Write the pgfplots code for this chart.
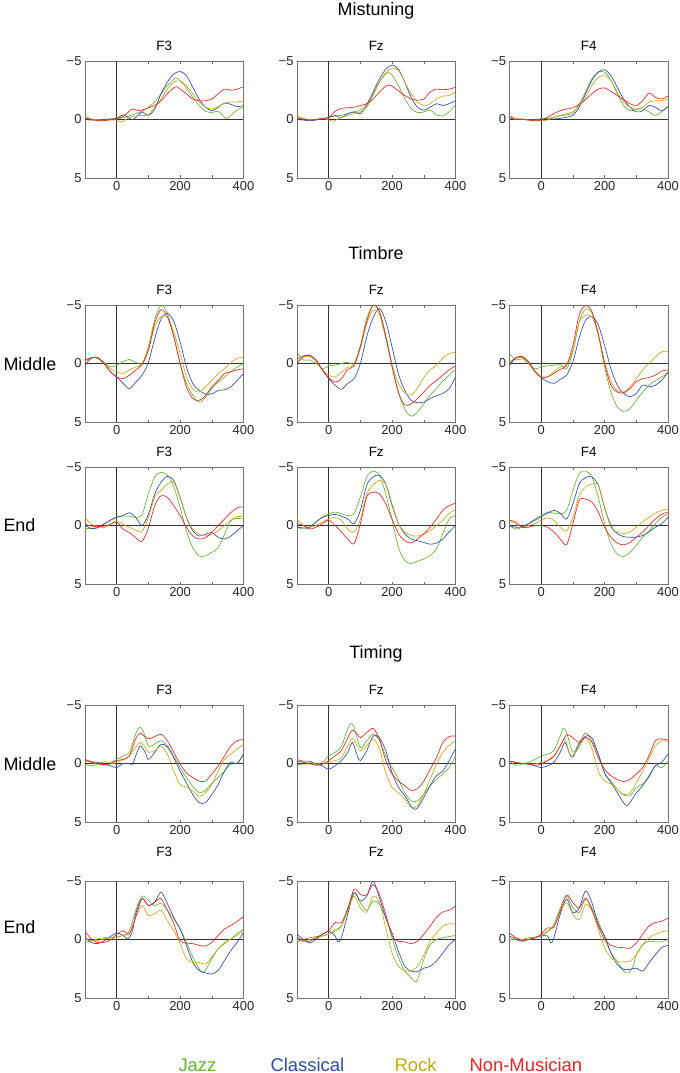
\documentclass[border=0pt]{standalone}
\usepackage{fontspec}
\setmainfont{Liberation Sans}
\usepackage{pgfplots}
\pgfplotsset{compat=1.18}
\definecolor{jazz}{RGB}{100,180,50}
\definecolor{classical}{RGB}{45,75,170}
\definecolor{rock}{RGB}{195,170,20}
\definecolor{nonmus}{RGB}{235,35,35}
\pgfplotsset{erp/.style={
  scale only axis, width=158.5bp, height=117bp, anchor=north west,
  xmin=-100, xmax=400, ymin=-5, ymax=5, y dir=reverse,
  xtick={0,100,200,300,400}, xticklabels={0,,200,,400},
  ytick={-5,0,5}, yticklabels={−5,0,5},
  tick align=inside, major tick length=2.5bp,
  tick style={black!60, line width=0.5pt},
  axis line style={black!55, line width=0.9pt},
  tick label style={font=\fontsize{13}{14}\selectfont, text=black!85},
  title style={at={(0.5,1)}, anchor=base, yshift=4.5bp, font=\fontsize{13.5}{14}\selectfont},
  extra x ticks={0}, extra x tick labels={}, extra y ticks={0}, extra y tick labels={},
  extra tick style={grid=major, major grid style={black!80, line width=0.6pt}, major tick length=0pt},
  every axis plot/.append style={line width=0.65pt, smooth, mark=none},
}}
\begin{document}
\begin{tikzpicture}
\path[use as bounding box] (0,0) rectangle (680bp,-1073bp);
\tikzset{lab/.style={anchor=base west, font=\fontsize{18}{19}\selectfont}, sec/.style={anchor=base, font=\fontsize{18}{19}\selectfont}}
\node[sec] at (376bp,-15.5bp) {Mistuning};
\node[sec] at (376bp,-259bp) {Timbre};
\node[sec] at (376bp,-658.5bp) {Timing};
\node[lab] at (0bp,-370bp) {Middle};
\node[lab] at (0bp,-531.5bp) {End};
\node[lab] at (0bp,-770bp) {Middle};
\node[lab] at (0bp,-933bp) {End};
\node[anchor=base west, font=\fontsize{18.5}{19}\selectfont, text=jazz] at (175bp,-1071bp) {Jazz};
\node[anchor=base west, font=\fontsize{18.5}{19}\selectfont, text=classical] at (267bp,-1071bp) {Classical};
\node[anchor=base west, font=\fontsize{18.5}{19}\selectfont, text=rock] at (391bp,-1071bp) {Rock};
\node[anchor=base west, font=\fontsize{18.5}{19}\selectfont, text=nonmus] at (466bp,-1071bp) {Non-Musician};

% ===== Row 1: Mistuning =====
\begin{axis}[erp, at={(85bp,-61bp)}, title={F3}]
\addplot[jazz] coordinates {(-100,-0.15)(-80,0)(-60,0)(-40,0)(-20,0)(0,-0.05)(20,-0.15)(40,-0.3)(60,-0.5)(80,-0.7)(100,-1.05)(120,-1.5)(140,-2.2)(160,-2.9)(180,-3.45)(190,-3.55)(200,-3.3)(220,-2.7)(240,-1.9)(260,-1.2)(280,-0.7)(300,-0.6)(320,-0.7)(340,-0.2)(350,-0.1)(360,-0.35)(380,-0.8)(400,-1.1)};
\addplot[classical] coordinates {(-100,0)(-80,0.05)(-60,0.05)(-40,0)(-20,-0.05)(0,-0.1)(20,-0.4)(35,-0.2)(50,0)(65,-0.3)(80,-0.65)(100,-0.35)(120,-0.9)(140,-2.2)(160,-3.2)(180,-3.9)(200,-4.1)(220,-3.75)(240,-2.75)(260,-1.75)(280,-1.05)(300,-0.75)(320,-1.05)(340,-1.4)(360,-1.3)(380,-1.1)(400,-1.2)};
\addplot[rock] coordinates {(-100,-0.3)(-80,-0.05)(-60,0.05)(-40,0.1)(-20,0.05)(0,0.05)(10,0.2)(20,0.15)(40,-0.2)(60,-0.3)(80,-0.35)(100,-0.4)(120,-1.05)(140,-1.75)(160,-2.6)(180,-3.2)(200,-3.3)(220,-2.9)(240,-2.2)(260,-1.5)(280,-1.05)(300,-0.9)(320,-1.1)(340,-1.4)(360,-1.5)(380,-1.5)(400,-1.6)};
\addplot[nonmus] coordinates {(-100,-0.15)(-80,0)(-60,0.1)(-40,0.1)(-20,0)(0,-0.1)(20,-0.25)(35,-0.6)(50,-0.9)(70,-0.75)(90,-0.9)(100,-1.0)(120,-1.2)(140,-1.6)(160,-2.2)(180,-2.7)(190,-2.8)(200,-2.6)(220,-2.2)(240,-1.75)(260,-1.6)(280,-1.6)(300,-1.75)(320,-2.2)(340,-2.6)(360,-2.5)(380,-2.6)(400,-2.8)};
\end{axis}
\begin{axis}[erp, at={(297bp,-61bp)}, title={Fz}]
\addplot[jazz] coordinates {(-100,-0.2)(-80,-0.05)(-60,0)(-40,0)(-20,-0.05)(0,-0.2)(20,-0.3)(40,-0.35)(60,-0.5)(80,-0.65)(100,-0.8)(120,-1.35)(140,-2.2)(160,-3.2)(180,-3.9)(190,-4.0)(200,-3.8)(220,-2.9)(240,-1.8)(260,-0.95)(280,-0.6)(300,-0.65)(320,-0.8)(340,-0.4)(360,-0.3)(380,-0.65)(400,-1.25)};
\addplot[classical] coordinates {(-100,0)(-80,0.05)(-60,0.1)(-40,0.05)(-20,-0.05)(0,-0.15)(20,-0.35)(40,-0.15)(60,-0.5)(80,-0.65)(100,-0.5)(120,-1.2)(140,-2.35)(160,-3.45)(180,-4.3)(200,-4.65)(220,-4.3)(240,-3.2)(260,-1.9)(280,-1.05)(300,-0.8)(320,-1.05)(340,-1.35)(360,-1.2)(380,-1.35)(400,-1.6)};
\addplot[rock] coordinates {(-100,-0.35)(-80,-0.1)(-60,0)(-40,0)(-20,-0.1)(0,0.05)(10,0.15)(20,0.1)(40,-0.2)(60,-0.35)(80,-0.5)(100,-0.65)(120,-1.05)(140,-2.05)(160,-3.2)(180,-4.0)(200,-4.4)(220,-4.2)(240,-3.2)(260,-2.2)(280,-1.5)(300,-1.2)(320,-1.35)(340,-1.75)(360,-2.0)(380,-2.05)(400,-2.35)};
\addplot[nonmus] coordinates {(-100,-0.15)(-80,0)(-60,0.05)(-40,0)(-20,-0.1)(0,-0.15)(20,-0.7)(40,-0.95)(60,-1.0)(80,-1.05)(100,-1.2)(120,-1.35)(140,-1.75)(160,-2.35)(180,-2.85)(190,-2.95)(200,-2.85)(220,-2.45)(240,-2.05)(260,-1.75)(280,-1.65)(300,-1.75)(320,-2.35)(340,-2.6)(360,-2.55)(380,-2.6)(400,-2.75)};
\end{axis}
\begin{axis}[erp, at={(509.5bp,-61bp)}, title={F4}]
\addplot[jazz] coordinates {(-100,-0.15)(-80,0)(-60,-0.05)(-40,0)(-20,0.05)(0,-0.05)(20,-0.1)(40,-0.2)(60,-0.3)(80,-0.4)(100,-0.55)(120,-1.35)(140,-2.35)(160,-3.5)(180,-4.05)(200,-4.05)(220,-3.35)(240,-2.2)(260,-1.2)(280,-0.75)(300,-0.85)(320,-0.9)(340,-0.65)(360,-0.35)(380,-0.65)(400,-1.1)};
\addplot[classical] coordinates {(-100,-0.2)(-80,0)(-60,0)(-40,0)(-20,0)(0,-0.05)(20,-0.05)(40,-0.05)(60,-0.1)(80,-0.2)(100,-0.35)(120,-1.05)(140,-2.2)(160,-3.35)(180,-4.05)(200,-4.25)(220,-3.75)(240,-2.75)(260,-1.75)(280,-1.05)(300,-0.65)(320,-0.75)(340,-1.2)(360,-1.05)(380,-0.75)(400,-1.1)};
\addplot[rock] coordinates {(-100,-0.35)(-80,-0.1)(-60,-0.05)(-40,0.05)(-20,0.1)(0,0.1)(20,0.05)(40,-0.2)(60,-0.35)(80,-0.5)(100,-0.65)(120,-1.2)(140,-1.9)(160,-2.9)(180,-3.6)(200,-3.75)(220,-3.35)(240,-2.35)(260,-1.5)(280,-1.05)(300,-0.9)(320,-1.05)(340,-1.5)(360,-1.6)(380,-1.6)(400,-1.75)};
\addplot[nonmus] coordinates {(-100,-0.2)(-80,0)(-60,0)(-40,0.05)(-20,0.1)(0,0.05)(20,-0.2)(40,-0.5)(60,-0.75)(80,-0.9)(100,-1.0)(120,-1.3)(140,-1.7)(160,-2.2)(180,-2.6)(200,-2.7)(220,-2.4)(240,-2.05)(260,-1.7)(280,-1.35)(300,-1.2)(320,-1.6)(340,-2.25)(360,-1.9)(380,-1.75)(400,-2.0)};
\end{axis}

% ===== Row 2: Timbre Middle =====
\begin{axis}[erp, at={(85bp,-305bp)}, title={F3}]
\addplot[jazz] coordinates {(-100,-0.15)(-80,-0.45)(-60,-0.5)(-40,-0.1)(-20,0.3)(0,0.15)(20,-0.15)(40,-0.35)(60,-0.1)(80,0)(100,-1.45)(120,-3.75)(140,-4.95)(160,-4.3)(180,-2.3)(200,0)(220,1.7)(240,2.7)(260,3.3)(280,2.9)(300,2.15)(320,1.6)(340,1.15)(360,0.7)(380,0.3)(400,0)};
\addplot[classical] coordinates {(-100,0.15)(-80,-0.45)(-60,-0.5)(-40,0)(-20,0.7)(0,1.15)(20,1.7)(40,2.15)(60,1.6)(80,1.0)(100,-0.1)(120,-2.15)(140,-3.8)(160,-4.3)(180,-3.6)(200,-1.85)(220,0.3)(240,1.7)(260,2.3)(280,2.6)(300,2.6)(320,2.3)(340,2.25)(360,2.0)(380,1.45)(400,0.85)};
\addplot[rock] coordinates {(-100,-0.25)(-80,-0.5)(-60,-0.45)(-40,0)(-20,0.45)(0,0.7)(20,0.85)(40,0.55)(60,0.3)(80,0.1)(100,-1.15)(120,-3.15)(140,-4.0)(160,-3.95)(180,-2.7)(200,-0.85)(220,1.15)(240,2.15)(260,2.45)(280,2.0)(300,1.45)(320,0.85)(340,0.45)(360,-0.05)(380,-0.45)(400,-0.5)};
\addplot[nonmus] coordinates {(-100,-0.3)(-80,-0.5)(-60,-0.45)(-40,0)(-20,0.7)(0,1.15)(20,1.3)(40,1.0)(60,0.55)(80,0.1)(100,-1.15)(120,-3.45)(140,-4.6)(160,-4.0)(180,-2.3)(200,0)(220,2.0)(240,3.0)(260,3.15)(280,2.75)(300,2.0)(320,1.45)(340,0.85)(360,0.7)(380,0.55)(400,0.45)};
\end{axis}
\begin{axis}[erp, at={(297bp,-305bp)}, title={Fz}]
\addplot[jazz] coordinates {(-100,-0.95)(-80,-0.3)(-60,-0.3)(-40,0)(-20,0.45)(0,0.2)(20,0.15)(40,0)(60,-0.1)(80,0)(100,-1.55)(120,-3.85)(140,-4.95)(160,-4.45)(180,-2.45)(200,0.2)(220,2.4)(240,3.9)(260,4.5)(280,4.15)(300,3.45)(320,2.7)(340,2.15)(360,1.5)(380,1.0)(400,0.5)};
\addplot[classical] coordinates {(-100,0)(-80,-0.55)(-60,-0.7)(-40,-0.3)(-20,0.55)(0,1.3)(20,1.85)(40,2.2)(60,1.7)(80,1.3)(100,0)(120,-2.3)(140,-3.9)(160,-4.7)(180,-3.6)(200,-1.4)(220,0.9)(240,2.3)(260,3.15)(280,3.35)(300,3.3)(320,3.0)(340,2.75)(360,2.55)(380,2.15)(400,1.15)};
\addplot[rock] coordinates {(-100,-0.15)(-80,-0.55)(-60,-0.6)(-40,-0.15)(-20,0.55)(0,1.0)(20,1.15)(40,0.75)(60,0.3)(80,0.15)(100,-1.3)(120,-3.4)(140,-4.55)(160,-4.15)(180,-2.15)(200,0.1)(220,1.7)(240,2.5)(260,2.7)(280,2.1)(300,1.2)(320,0.55)(340,0.15)(360,-0.45)(380,-0.85)(400,-0.95)};
\addplot[nonmus] coordinates {(-100,-0.35)(-80,-0.65)(-60,-0.7)(-40,-0.3)(-20,0.55)(0,1.2)(20,1.6)(40,1.3)(60,0.5)(80,0.2)(100,-1.45)(120,-3.6)(140,-5.0)(160,-4.45)(180,-2.3)(200,0.3)(220,2.5)(240,3.55)(260,3.45)(280,3.0)(300,2.45)(320,1.85)(340,1.45)(360,1.0)(380,0.55)(400,0.2)};
\end{axis}
\begin{axis}[erp, at={(509.5bp,-305bp)}, title={F4}]
\addplot[jazz] coordinates {(-100,-0.85)(-80,-0.3)(-60,-0.4)(-40,0)(-20,0.45)(0,0.3)(20,0.2)(40,0.15)(60,0.1)(80,0.45)(100,-1.0)(120,-3.55)(140,-4.65)(160,-4.3)(180,-2.45)(200,0.3)(220,2.45)(240,3.7)(260,4.1)(280,3.85)(300,3.15)(320,2.45)(340,1.85)(360,1.45)(380,1.15)(400,0.85)};
\addplot[classical] coordinates {(-100,0.15)(-80,-0.45)(-60,-0.55)(-40,-0.15)(-20,0.7)(0,1.2)(20,1.55)(40,1.7)(60,1.35)(80,1.0)(100,-0.15)(120,-2.2)(140,-3.7)(160,-4.0)(180,-3.3)(200,-1.55)(220,0.45)(240,1.85)(260,2.55)(280,2.85)(300,2.55)(320,1.85)(340,2.0)(360,1.85)(380,1.45)(400,0.7)};
\addplot[rock] coordinates {(-100,-0.15)(-80,-0.45)(-60,-0.5)(-40,0)(-20,0.7)(0,1.15)(20,1.15)(40,0.7)(60,0.3)(80,0.15)(100,-1.15)(120,-3.55)(140,-4.1)(160,-4.0)(180,-2.45)(200,-0.15)(220,1.55)(240,2.3)(260,2.45)(280,2.0)(300,1.3)(320,0.55)(340,0)(360,-0.55)(380,-1.0)(400,-1.05)};
\addplot[nonmus] coordinates {(-100,0)(-80,-0.5)(-60,-0.6)(-40,-0.15)(-20,0.65)(0,1.15)(20,1.15)(40,0.85)(60,0.5)(80,0.15)(100,-1.55)(120,-4.15)(140,-4.95)(160,-4.45)(180,-2.55)(200,0)(220,1.85)(240,2.45)(260,2.5)(280,2.15)(300,1.55)(320,1.3)(340,1.2)(360,1.0)(380,0.65)(400,0.55)};
\end{axis}

% ===== Row 3: Timbre End =====
\begin{axis}[erp, at={(85bp,-467bp)}, title={F3}]
\addplot[jazz] coordinates {(-100,0.25)(-80,0.25)(-60,0.15)(-40,-0.1)(-20,-0.45)(0,-0.75)(20,-0.8)(40,-0.8)(60,-0.7)(80,-0.95)(100,-2.7)(120,-4.15)(140,-4.55)(160,-4.3)(180,-3.3)(200,-1.55)(220,0.45)(240,1.9)(260,2.6)(280,2.6)(300,2.3)(320,1.9)(340,0.75)(360,-0.4)(380,-0.6)(400,-0.55)};
\addplot[classical] coordinates {(-100,0)(-80,0.25)(-60,0.2)(-40,-0.15)(-20,-0.45)(0,-0.7)(20,-0.85)(40,-1.1)(60,-0.7)(80,0)(100,-0.95)(120,-2.7)(140,-3.7)(160,-4.2)(180,-3.85)(200,-2.4)(220,-0.7)(240,0.45)(260,0.9)(280,0.75)(300,0.6)(320,1.0)(340,1.15)(360,0.9)(380,0.45)(400,0)};
\addplot[rock] coordinates {(-100,-0.7)(-80,-0.1)(-60,0.05)(-40,0.2)(-20,-0.1)(0,-0.4)(20,-0.1)(40,0.15)(60,0.4)(80,0.5)(100,-0.7)(120,-2.4)(140,-3.0)(160,-3.55)(180,-3.7)(200,-2.4)(220,-0.7)(240,0.3)(260,0.75)(280,0.9)(300,0.75)(320,0.45)(340,0)(360,-0.45)(380,-0.75)(400,-0.75)};
\addplot[nonmus] coordinates {(-100,-0.1)(-80,0.05)(-60,0.1)(-40,0.05)(-20,-0.1)(0,-0.3)(20,0.3)(40,0.6)(60,1.05)(80,1.35)(100,0.2)(120,-1.7)(140,-2.55)(160,-2.4)(180,-1.7)(200,-0.85)(220,0.15)(240,0.9)(260,1.15)(280,1.05)(300,0.6)(320,0)(340,-0.55)(360,-1.1)(380,-1.5)(400,-1.6)};
\end{axis}
\begin{axis}[erp, at={(297bp,-467bp)}, title={Fz}]
\addplot[jazz] coordinates {(-100,0.15)(-80,0.3)(-60,0.15)(-40,-0.3)(-20,-0.7)(0,-1.0)(20,-1.15)(40,-1.0)(60,-0.85)(80,-1.0)(100,-2.45)(120,-4.15)(140,-4.65)(160,-4.3)(180,-2.7)(200,-0.45)(220,1.85)(240,3.0)(260,3.25)(280,3.05)(300,2.85)(320,2.55)(340,2.0)(360,0.7)(380,-0.55)(400,-0.85)};
\addplot[classical] coordinates {(-100,0.15)(-80,0.2)(-60,0.15)(-40,-0.3)(-20,-0.7)(0,-0.85)(20,-0.95)(40,-0.8)(60,-0.55)(80,-0.15)(100,-1.3)(120,-3.45)(140,-4.15)(160,-4.3)(180,-3.55)(200,-1.7)(220,-0.15)(240,0.7)(260,1.15)(280,1.3)(300,1.45)(320,1.6)(340,1.5)(360,1.15)(380,0.55)(400,0)};
\addplot[rock] coordinates {(-100,-0.55)(-80,0)(-60,0.15)(-40,0)(-20,-0.3)(0,-0.55)(20,-0.7)(40,-0.45)(60,0.3)(80,0.55)(100,-0.55)(120,-2.7)(140,-3.45)(160,-3.85)(180,-3.55)(200,-1.85)(220,-0.15)(240,0.55)(260,0.85)(280,0.9)(300,0.75)(320,0.45)(340,0)(360,-0.45)(380,-1.05)(400,-1.35)};
\addplot[nonmus] coordinates {(-100,-0.15)(-80,0)(-60,0.3)(-40,0.15)(-20,-0.15)(0,-0.45)(20,0)(40,0.55)(60,1.15)(80,1.55)(100,-0.15)(120,-2.45)(140,-2.85)(160,-2.7)(180,-1.85)(200,-0.55)(220,0.7)(240,1.3)(260,1.5)(280,1.15)(300,0.7)(320,0.15)(340,-0.55)(360,-1.3)(380,-1.7)(400,-1.9)};
\end{axis}
\begin{axis}[erp, at={(509.5bp,-467bp)}, title={F4}]
\addplot[jazz] coordinates {(-100,0)(-80,0.3)(-60,0.15)(-40,-0.15)(-20,-0.55)(0,-0.85)(20,-1.15)(40,-1.05)(60,-1.0)(80,-1.3)(100,-3.0)(120,-4.45)(140,-4.65)(160,-4.15)(180,-2.45)(200,-0.15)(220,1.55)(240,2.45)(260,2.65)(280,2.3)(300,1.7)(320,1.0)(340,0.45)(360,-0.15)(380,-0.7)(400,-1.0)};
\addplot[classical] coordinates {(-100,0)(-80,0.15)(-60,0.1)(-40,-0.15)(-20,-0.45)(0,-0.75)(20,-1.05)(40,-1.3)(60,-1.05)(80,-0.55)(100,-1.85)(120,-3.55)(140,-4.1)(160,-4.15)(180,-3.45)(200,-1.55)(220,0)(240,0.7)(260,0.95)(280,1.0)(300,1.0)(320,0.85)(340,0.55)(360,0.15)(380,-0.15)(400,-0.7)};
\addplot[rock] coordinates {(-100,-0.45)(-80,-0.15)(-60,0.15)(-40,0)(-20,-0.15)(0,-0.45)(20,-0.65)(40,-0.45)(60,0.15)(80,0.45)(100,-0.7)(120,-2.55)(140,-3.3)(160,-3.55)(180,-3.45)(200,-1.55)(220,0.15)(240,0.55)(260,0.7)(280,0.55)(300,0.15)(320,-0.3)(340,-0.7)(360,-1.05)(380,-1.3)(400,-1.4)};
\addplot[nonmus] coordinates {(-100,-0.45)(-80,-0.3)(-60,0.15)(-40,0.15)(-20,0)(0,0)(20,0.15)(40,0.55)(60,1.15)(80,1.65)(100,-0.15)(120,-2.15)(140,-2.25)(160,-2.0)(180,-1.15)(200,0.15)(220,1.0)(240,1.5)(260,1.65)(280,1.45)(300,1.0)(320,0.55)(340,0)(360,-0.55)(380,-0.95)(400,-1.15)};
\end{axis}

% ===== Row 4: Timing Middle =====
\begin{axis}[erp, at={(85bp,-705bp)}, title={F3}]
\addplot[jazz] coordinates {(-100,0.05)(-80,0.2)(-60,0.05)(-40,-0.15)(-20,-0.1)(0,-0.35)(20,-0.65)(40,-0.95)(60,-2.55)(72,-3.1)(85,-2.7)(100,-1.5)(120,-1.65)(140,-1.95)(160,-1.5)(180,-0.65)(200,0.35)(220,1.2)(240,1.95)(260,2.5)(280,2.3)(300,1.7)(320,1.2)(340,0.65)(360,0.05)(380,0)(400,-0.8)};
\addplot[classical] coordinates {(-100,-0.25)(-80,-0.15)(-60,-0.1)(-40,0.05)(-20,0.2)(0,0.35)(20,0)(40,0)(50,0.05)(62,-0.8)(75,-1.5)(90,-0.95)(100,-0.35)(120,-0.95)(140,-1.65)(160,-1.4)(180,-0.5)(200,0.65)(220,1.65)(240,2.65)(260,3.35)(280,3.35)(300,2.65)(320,1.8)(340,0.65)(360,-0.1)(380,0)(400,-0.8)};
\addplot[rock] coordinates {(-100,-0.2)(-80,-0.1)(-60,0.05)(-40,0.15)(-20,0.05)(0,-0.1)(20,-0.3)(40,-0.65)(60,-1.4)(75,-1.8)(90,-1.4)(100,-0.95)(120,-1.1)(140,-1.45)(160,-0.8)(180,0.65)(200,1.8)(220,2.0)(240,2.35)(260,2.8)(280,2.5)(300,1.8)(320,0.65)(340,-0.35)(360,-0.8)(380,-1.25)(400,-1.65)};
\addplot[nonmus] coordinates {(-100,-0.35)(-80,-0.15)(-60,0)(-40,0.1)(-20,0)(0,-0.25)(20,-0.35)(40,-0.65)(60,-2.1)(75,-2.6)(90,-2.25)(100,-2.1)(120,-2.3)(140,-2.5)(160,-1.95)(180,-0.95)(200,0.05)(220,0.8)(240,1.2)(260,1.5)(280,1.5)(300,0.9)(320,0.2)(340,-0.65)(360,-1.5)(380,-1.95)(400,-2.05)};
\end{axis}
\begin{axis}[erp, at={(297bp,-705bp)}, title={Fz}]
\addplot[jazz] coordinates {(-100,0.1)(-80,0.05)(-60,0.05)(-40,0.05)(-20,-0.1)(0,-0.65)(20,-0.95)(40,-1.5)(60,-2.95)(70,-3.4)(80,-3.1)(100,-1.35)(120,-1.95)(140,-2.5)(160,-1.95)(180,-0.65)(200,0.35)(220,1.35)(240,2.5)(260,3.2)(280,3.2)(300,2.6)(320,1.9)(340,1.35)(360,0.9)(380,0.35)(400,-0.65)};
\addplot[classical] coordinates {(-100,-0.35)(-80,-0.2)(-60,-0.2)(-40,0.05)(-20,0.2)(0,0.5)(20,0.2)(40,-0.25)(60,-0.95)(75,-1.8)(90,-0.65)(100,-0.25)(120,-1.1)(140,-2.35)(160,-2.2)(180,-1.1)(200,0.8)(220,2.05)(240,2.75)(260,3.65)(270,3.9)(280,3.8)(300,2.9)(320,1.9)(340,1.05)(360,0.65)(380,-0.25)(400,-1.25)};
\addplot[rock] coordinates {(-100,-0.35)(-80,-0.15)(-60,-0.1)(-40,0.05)(-20,0.05)(0,-0.1)(20,-0.25)(40,-0.5)(60,-1.5)(75,-2.15)(90,-1.5)(100,-1.1)(120,-1.5)(140,-2.1)(160,-1.25)(180,0.8)(200,2.05)(220,2.5)(240,3.05)(260,3.75)(280,3.6)(300,2.6)(320,1.35)(340,0.05)(360,-0.95)(380,-1.55)(400,-1.95)};
\addplot[nonmus] coordinates {(-100,-0.2)(-80,-0.1)(-60,0)(-40,0.15)(-20,0.05)(0,-0.25)(20,-0.65)(40,-1.1)(60,-2.2)(75,-2.85)(90,-2.5)(100,-2.2)(120,-2.65)(140,-3.0)(160,-2.1)(180,-0.25)(200,0.9)(220,1.5)(240,1.9)(260,2.3)(280,2.15)(300,1.5)(320,0.5)(340,-0.5)(360,-1.8)(380,-2.3)(400,-2.35)};
\end{axis}
\begin{axis}[erp, at={(509.5bp,-705bp)}, title={F4}]
\addplot[jazz] coordinates {(-100,-0.2)(-80,0.15)(-60,0.05)(-40,-0.1)(-20,-0.35)(0,-0.65)(20,-0.8)(40,-1.1)(60,-2.35)(70,-3.0)(80,-2.65)(100,-0.95)(120,-1.8)(140,-2.6)(160,-1.95)(180,-0.8)(200,0.8)(220,1.5)(240,2.2)(260,2.7)(280,2.75)(300,2.05)(320,1.75)(340,1.2)(360,0.2)(380,0.35)(400,-0.2)};
\addplot[classical] coordinates {(-100,-0.2)(-80,-0.1)(-60,0)(-40,0.05)(-20,0.2)(0,0.35)(20,0.2)(40,-0.1)(60,-0.95)(75,-1.8)(90,-0.8)(100,-0.55)(120,-1.65)(140,-2.35)(160,-2.2)(180,-0.8)(200,0.8)(220,1.65)(240,2.5)(260,3.35)(270,3.6)(280,3.35)(300,2.5)(320,1.9)(340,1.05)(360,0.2)(380,-0.1)(400,-0.8)};
\addplot[rock] coordinates {(-100,-0.2)(-80,-0.1)(-60,0)(-40,0.05)(-20,0.05)(0,-0.1)(20,-0.25)(40,-0.55)(60,-1.5)(75,-2.1)(90,-0.8)(100,-0.7)(120,-1.4)(140,-2.25)(160,-1.25)(180,0.65)(200,1.5)(220,1.75)(240,2.2)(260,2.65)(280,2.5)(300,1.65)(320,0.65)(340,-0.4)(360,-1.5)(380,-1.95)(400,-1.85)};
\addplot[nonmus] coordinates {(-100,-0.2)(-80,-0.1)(-60,0)(-40,0.05)(-20,0.15)(0,0.05)(20,-0.25)(40,-0.65)(60,-1.5)(80,-2.45)(100,-2.2)(120,-1.8)(140,-2.25)(160,-1.8)(180,-0.5)(200,0.5)(220,1.05)(240,1.35)(260,1.55)(280,1.35)(300,0.9)(320,0.35)(340,-0.65)(360,-1.95)(380,-2.1)(400,-2.0)};
\end{axis}

% ===== Row 5: Timing End =====
\begin{axis}[erp, at={(85bp,-881bp)}, title={F3}, title style={yshift=14bp}]
\addplot[jazz] coordinates {(-100,0.25)(-80,0.1)(-60,-0.05)(-40,-0.15)(-20,-0.15)(0,-0.2)(20,-0.35)(40,-0.75)(60,-2.5)(80,-3.7)(100,-3.35)(120,-2.9)(140,-3.1)(160,-2.5)(180,-1.75)(200,-0.9)(220,0.25)(240,1.5)(260,2.5)(270,2.8)(280,2.65)(300,1.65)(320,0.8)(340,0.35)(360,-0.05)(380,-0.5)(400,-0.9)};
\addplot[classical] coordinates {(-100,-0.2)(-80,0.25)(-60,0.35)(-40,0.1)(-20,-0.25)(0,-0.55)(20,-0.35)(35,-0.05)(50,-0.75)(60,-2.2)(80,-3.5)(100,-2.9)(120,-3.2)(140,-4.05)(160,-3.05)(180,-1.9)(200,-0.9)(220,0.5)(240,1.95)(260,2.65)(280,2.85)(300,2.95)(320,2.65)(340,1.8)(360,0.95)(380,0.25)(400,-0.6)};
\addplot[rock] coordinates {(-100,-0.05)(-80,0.1)(-60,0.1)(-40,-0.05)(-20,-0.15)(0,-0.2)(20,-0.35)(40,-0.5)(60,-1.9)(80,-2.9)(100,-2.05)(120,-2.2)(140,-2.5)(160,-1.6)(180,-0.75)(200,0.35)(220,1.65)(240,1.95)(260,1.95)(280,2.1)(300,1.5)(320,0.8)(340,0.25)(360,-0.05)(380,-0.35)(400,-0.75)};
\addplot[nonmus] coordinates {(-100,-0.7)(-80,-0.05)(-60,0.25)(-40,0.25)(-20,0.05)(0,-0.45)(20,-0.75)(40,-0.5)(60,-1.9)(80,-3.5)(100,-2.9)(120,-3.2)(140,-3.5)(160,-2.5)(180,-1.35)(200,0.1)(220,0.3)(240,0.35)(260,0.5)(280,0.55)(300,0.25)(320,-0.35)(340,-0.9)(360,-1.2)(380,-1.55)(400,-1.95)};
\end{axis}
\begin{axis}[erp, at={(297bp,-881bp)}, title={Fz}, title style={yshift=14bp}]
\addplot[jazz] coordinates {(-100,0.2)(-80,0)(-60,-0.15)(-40,-0.25)(-20,-0.3)(0,-0.5)(20,-0.7)(40,-1.15)(60,-2.7)(80,-4.0)(100,-3.15)(120,-2.5)(140,-3.3)(160,-3.0)(180,-1.85)(200,-0.15)(220,1.55)(240,2.7)(260,3.25)(270,3.55)(280,3.45)(300,1.7)(320,0.45)(340,0)(360,-0.15)(380,-0.25)(400,-0.35)};
\addplot[classical] coordinates {(-100,-0.45)(-80,0)(-60,0.3)(-40,0)(-20,-0.45)(0,-0.7)(20,-0.3)(30,0.2)(40,-0.15)(60,-2.15)(80,-4.0)(100,-3.3)(120,-3.7)(140,-5.0)(160,-3.55)(180,-1.85)(200,-0.55)(220,1.0)(240,2.3)(260,2.7)(280,2.75)(300,2.45)(320,2.3)(340,1.85)(360,1.15)(380,0.45)(400,0)};
\addplot[rock] coordinates {(-100,0)(-80,0.15)(-60,0)(-40,-0.15)(-20,-0.3)(0,-0.45)(20,-0.85)(40,-1.15)(60,-2.45)(80,-3.7)(100,-2.7)(120,-2.35)(140,-3.7)(160,-3.15)(180,-1.0)(200,1.15)(220,2.3)(240,2.65)(260,2.7)(280,2.3)(300,1.3)(320,0.15)(340,-0.55)(360,-1.15)(380,-1.35)(400,-1.3)};
\addplot[nonmus] coordinates {(-100,-0.2)(-80,0.1)(-60,0.15)(-40,-0.15)(-20,-0.45)(0,-0.75)(20,-1.45)(40,-1.45)(60,-2.6)(80,-4.3)(100,-3.85)(120,-3.8)(140,-4.7)(160,-3.85)(180,-2.15)(200,-0.3)(220,0.15)(240,0.2)(260,0.35)(280,0.15)(300,-0.45)(320,-1.15)(340,-1.9)(360,-2.35)(380,-2.5)(400,-2.85)};
\end{axis}
\begin{axis}[erp, at={(509.5bp,-881bp)}, title={F4}, title style={yshift=14bp}]
\addplot[jazz] coordinates {(-100,0)(-80,0)(-60,0)(-40,-0.15)(-20,-0.2)(0,-0.3)(20,-0.7)(40,-1.3)(60,-2.7)(80,-3.7)(100,-2.7)(120,-2.3)(140,-3.45)(160,-2.7)(180,-1.55)(200,-0.15)(220,1.15)(240,1.85)(260,2.7)(275,2.85)(290,2.3)(300,1.3)(320,0.45)(340,0.15)(360,0.2)(380,0.2)(400,0)};
\addplot[classical] coordinates {(-100,-0.3)(-80,0)(-60,0.15)(-40,0)(-20,-0.15)(0,-0.3)(20,-0.3)(30,0.3)(40,-0.15)(60,-2.15)(80,-3.45)(100,-2.3)(120,-2.7)(140,-4.15)(160,-3.15)(180,-1.3)(200,-0.3)(220,1.15)(240,2.15)(260,2.55)(280,2.55)(300,2.45)(320,2.7)(340,2.0)(360,1.3)(380,0.7)(400,0.5)};
\addplot[rock] coordinates {(-100,-0.15)(-80,-0.15)(-60,0)(-40,0)(-20,-0.15)(0,-0.35)(20,-0.7)(40,-1.15)(60,-2.45)(80,-3.15)(100,-2.15)(120,-1.7)(140,-3.0)(160,-2.45)(180,-0.85)(200,0.7)(220,1.55)(240,1.9)(260,1.9)(280,1.85)(300,1.3)(320,0.45)(340,-0.15)(360,-0.45)(380,-0.65)(400,-0.75)};
\addplot[nonmus] coordinates {(-100,-0.55)(-80,-0.15)(-60,0.1)(-40,0)(-20,-0.15)(0,-0.45)(20,-1.0)(40,-1.05)(60,-2.45)(80,-3.8)(100,-3.15)(120,-2.7)(140,-3.55)(160,-2.55)(180,-1.15)(200,0)(220,0.5)(240,0.65)(260,0.7)(280,0.75)(300,0.3)(320,-0.45)(340,-1.15)(360,-1.45)(380,-1.55)(400,-1.85)};
\end{axis}
\end{tikzpicture}
\end{document}
